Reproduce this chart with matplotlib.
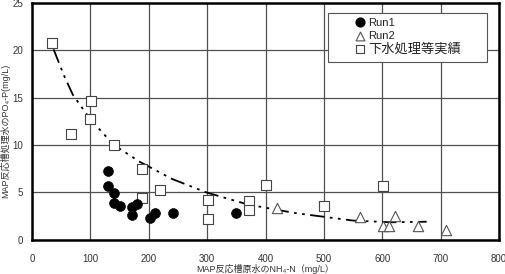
import matplotlib
matplotlib.use("Agg")
import matplotlib.pyplot as plt
from matplotlib.patches import Rectangle

plt.rcParams['font.family'] = ['Liberation Sans', 'Noto Sans CJK JP', 'DejaVu Sans']

# Run1 (filled circles)
run1_x = [130, 130, 141, 140, 151, 171, 180, 171, 202, 211, 241, 350]
run1_y = [7.2, 5.7, 4.9, 3.9, 3.5, 3.4, 3.75, 2.6, 2.25, 2.85, 2.85, 2.85]

# Run2 (open triangles)
run2_x = [420, 562, 601, 612, 621, 661, 710]
run2_y = [3.3, 2.35, 1.4, 1.4, 2.5, 1.4, 1.0]

# 下水処理等実績 (open squares)
sq_x = [35, 101, 100, 66, 141, 189, 220, 189, 302, 302, 401, 372, 372, 500, 601]
sq_y = [20.8, 14.6, 12.7, 11.1, 10.0, 7.45, 5.2, 4.35, 4.2, 2.2, 5.75, 4.1, 3.1, 3.5, 5.7]

# trend line
trend_x = [37, 55, 70, 100, 140, 185, 240, 300, 370, 450, 550, 615, 676]
trend_y = [20.1, 17.3, 15.3, 12.7, 10.0, 8.2, 6.4, 4.95, 3.7, 2.8, 2.0, 1.82, 1.88]

xticks = [0, 100, 200, 300, 400, 500, 600, 700, 800]
yticks = [0, 5, 10, 15, 20, 25]

fig = plt.figure(figsize=(5.06, 2.74), dpi=100)
ax = fig.add_axes([32/506, 1-239.5/274, 467/506, 236.5/274])
ax.set_xlim(0, 800)
ax.set_ylim(0, 25)
ax.set_xticks(xticks)
ax.set_yticks(yticks)
ax.grid(True, color='#505050', linewidth=0.9)
ax.set_axisbelow(True)
ax.tick_params(length=0, labelsize=7, colors='#333333')
ax.tick_params(axis='x', pad=10.5)
ax.tick_params(axis='y', pad=6.5)
for s in ax.spines.values():
    s.set_linewidth(1.8)
    s.set_color('black')

ax.plot(trend_x, trend_y, color='black', linewidth=1.3,
        linestyle=(0, (8, 3, 1.5, 3, 1.5, 3)), zorder=3)

ax.scatter(sq_x, sq_y, marker='s', s=55, facecolor='white', edgecolor='#444444',
           linewidth=0.8, zorder=4)
ax.scatter(run2_x, run2_y, marker='^', s=55, facecolor='white', edgecolor='#555555',
           linewidth=0.8, zorder=4)
ax.scatter(run1_x, run1_y, marker='o', s=50, facecolor='black', edgecolor='black',
           linewidth=0.5, zorder=5)

ax.set_xlabel('MAP反応槽原水のNH\u2084-N（mg/L）', fontsize=6.5, color='#333333')
ax.xaxis.set_label_coords(0.5, -0.105)
ax.xaxis.label.set_va('top')
ax.set_ylabel('MAP反応槽処理水のPO\u2084-P(mg/L)', fontsize=6.5, color='#333333')
ax.yaxis.set_label_coords(-0.057, 0.46)
ax.yaxis.label.set_va('center')

# legend frame
ax.add_patch(Rectangle(((328-32)/467, (239.5-62)/236.5), (487-328)/467, (62-13)/236.5,
                       transform=ax.transAxes, facecolor='white', edgecolor='#555555',
                       linewidth=0.8, zorder=6))
h1 = ax.scatter([], [], marker='o', s=40, facecolor='black', edgecolor='black')
h2 = ax.scatter([], [], marker='^', s=40, facecolor='white', edgecolor='#555555', linewidth=0.8)
h3 = ax.scatter([], [], marker='s', s=40, facecolor='white', edgecolor='#444444', linewidth=0.8)
leg = ax.legend([h1, h2, h3], ['Run1', 'Run2', '下水処理等実績'],
                loc='upper left', bbox_to_anchor=((350-32)/467, (239.5-13)/236.5),
                frameon=False, handletextpad=0.1, handlelength=1.0,
                labelspacing=0.15, borderpad=0.2, borderaxespad=0)
leg.set_zorder(7)
for i, t in enumerate(leg.get_texts()):
    t.set_fontsize(8 if i < 2 else 9.5)
    t.set_color('#222222')

fig.savefig('out.png', dpi=100)
